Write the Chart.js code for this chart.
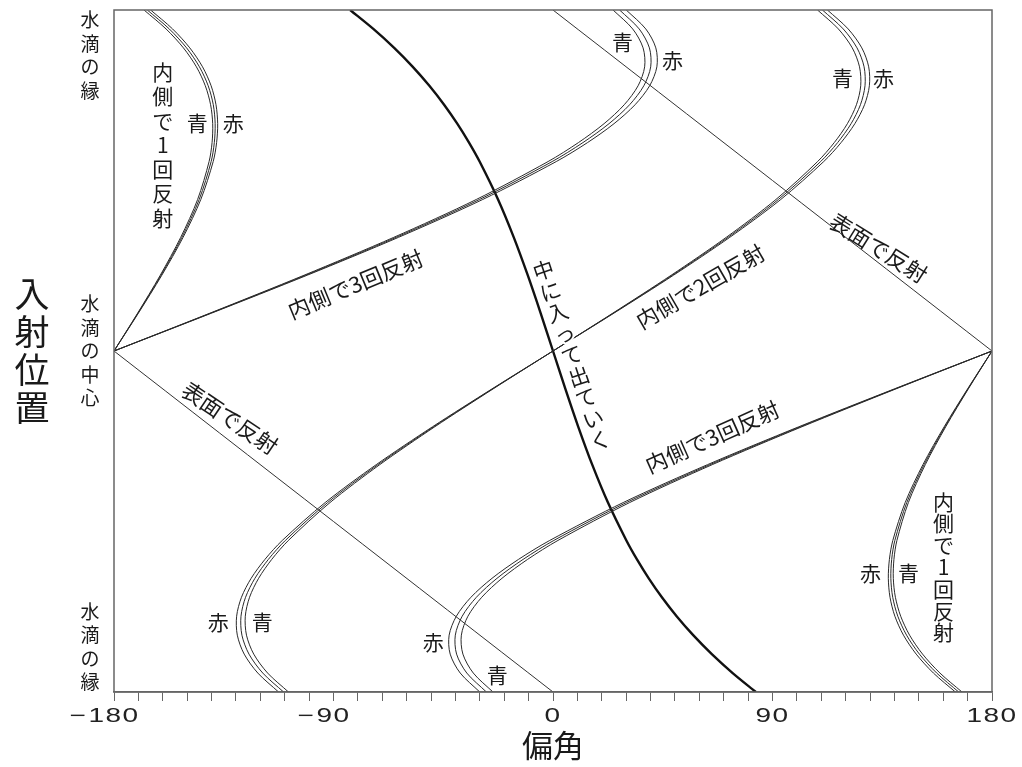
<!DOCTYPE html>
<html lang="ja">
<head>
<meta charset="utf-8">
<title>偏角と入射位置</title>
<script src="https://cdn.jsdelivr.net/npm/chart.js@4.4.1/dist/chart.umd.min.js"></script>
<style>
html,body{margin:0;padding:0;background:#fff;}
canvas{display:block;}
</style>
</head>
<body>
<canvas id="c" width="1022" height="767"></canvas>
<script>
// Incidence angle (deg) on the drop: +90 = upper edge, 0 = centre, -90 = lower edge
const incidenceUpper = [0, 10, 20, 30, 40, 50, 55, 60, 65, 70, 75, 80, 85, 90];
const incidenceLower = [0, -10, -20, -30, -40, -50, -55, -60, -65, -70, -75, -80, -85, -90];

// Deflection angle (deg) for each path, per colour (red / middle / blue)
// Straight through (中に入って出ていく)
const directUpper = [0, -5.07, -10.36, -16.08, -22.53, -30.09, -34.43, -39.26, -44.65, -50.69, -57.48, -65.12, -73.67, -83.18];
const directLower = [0, 5.07, 10.36, 16.08, 22.53, 30.09, 34.43, 39.26, 44.65, 50.69, 57.48, 65.12, 73.67, 83.18];

// One internal reflection
const once1RedUpper  = [-180, -169.99, -160.39, -151.67, -144.40, -139.33, -137.93, -137.49, -138.18, -140.18, -143.70, -148.92, -155.98, -164.99];
const once1MidUpper  = [-180, -170.15, -160.71, -152.16, -145.06, -140.17, -138.87, -138.52, -139.29, -141.38, -144.97, -150.24, -157.33, -166.35];
const once1BlueUpper = [-180, -170.30, -161.03, -152.64, -145.71, -141.01, -139.79, -139.53, -140.39, -142.56, -146.21, -151.53, -158.66, -167.69];
const once1RedLower  = [180, 169.99, 160.39, 151.67, 144.40, 139.33, 137.93, 137.49, 138.18, 140.18, 143.70, 148.92, 155.98, 164.99];
const once1MidLower  = [180, 170.15, 160.71, 152.16, 145.06, 140.17, 138.87, 138.52, 139.29, 141.38, 144.97, 150.24, 157.33, 166.35];
const once1BlueLower = [180, 170.30, 161.03, 152.64, 145.71, 141.01, 139.79, 139.53, 140.39, 142.56, 146.21, 151.53, 158.66, 167.69];

// Two internal reflections
const twice2RedUpper  = [0, 25.01, 49.41, 72.49, 93.41, 111.01, 118.11, 123.77, 127.74, 129.72, 129.44, 126.62, 121.03, 112.52];
const twice2MidUpper  = [0, 24.78, 48.93, 71.77, 92.42, 109.74, 116.70, 122.23, 126.06, 127.93, 127.55, 124.65, 119.00, 110.47];
const twice2BlueUpper = [0, 24.54, 48.46, 71.04, 91.43, 108.49, 115.32, 120.71, 124.42, 126.17, 125.68, 122.70, 117.01, 108.46];
const twice2RedLower  = [0, -25.01, -49.41, -72.49, -93.41, -111.01, -118.11, -123.77, -127.74, -129.72, -129.44, -126.62, -121.03, -112.52];
const twice2MidLower  = [0, -24.78, -48.93, -71.77, -92.42, -109.74, -116.70, -122.23, -126.06, -127.93, -127.55, -124.65, -119.00, -110.47];
const twice2BlueLower = [0, -24.54, -48.46, -71.04, -91.43, -108.49, -115.32, -120.71, -124.42, -126.17, -125.68, -122.70, -117.01, -108.46];

// Three internal reflections
const thrice3RedUpper  = [-180, -139.98, -100.78, -63.34, -28.79, 1.34, 14.14, 25.02, 33.65, 39.63, 42.59, 42.16, 38.04, 30.02];
const thrice3MidUpper  = [-180, -140.30, -101.42, -64.31, -30.11, -0.34, 12.26, 22.97, 31.42, 37.24, 40.06, 39.53, 35.34, 27.30];
const thrice3BlueUpper = [-180, -140.61, -102.06, -65.28, -31.42, -2.02, 10.42, 20.94, 29.22, 34.89, 37.58, 36.94, 32.68, 24.62];
const thrice3RedLower  = [180, 139.98, 100.78, 63.34, 28.79, -1.34, -14.14, -25.02, -33.65, -39.63, -42.59, -42.16, -38.04, -30.02];
const thrice3MidLower  = [180, 140.30, 101.42, 64.31, 30.11, 0.34, -12.26, -22.97, -31.42, -37.24, -40.06, -39.53, -35.34, -27.30];
const thrice3BlueLower = [180, 140.61, 102.06, 65.28, 31.42, 2.02, -10.42, -20.94, -29.22, -34.89, -37.58, -36.94, -32.68, -24.62];

// Reflection at the surface (straight lines)
const surfaceIncUpper = [0, 90];
const surfaceUpper = [180, 0];
const surfaceIncLower = [0, -90];
const surfaceLower = [-180, 0];

// Axis tick labels (value -> sign, digits)
const xTickValues = [-180, -90, 0, 90, 180];
const xTickDigits = ['180', '90', '0', '90', '180'];
const xTickSigns  = ['\u2212', '\u2212', '', '', ''];

// Labels: in-plot text positioned in data units (deflection, incidence)
const pathLabels = [
  { text: '内側で1回反射', x: -160, y: 54.4, vertical: true, step: 24.3, size: 21 },
  { text: '内側で1回反射', x: 160.1, y: -57.0, vertical: true, step: 21.8, size: 21 },
  { text: '中に入って出ていく', x: 7.7, y: -1.1, vertical: true, step: 22.4, angle: -18.5, knock: true, size: 21 },
  { text: '内側で3回反射', x: -81.0, y: 17.6, angle: -22.5, size: 22 },
  { text: '内側で2回反射', x: 60.4, y: 17.0, angle: -30, size: 22 },
  { text: '表面で反射', x: 133.5, y: 27.2, angle: 32, size: 22 },
  { text: '表面で反射', x: -132.4, y: -17.7, angle: 34, size: 22 },
  { text: '内側で3回反射', x: 65.3, y: -22.7, angle: -24, size: 22 }
];
const colourLabels = [
  { text: '青', x: -145.9, y: 60.2 }, { text: '赤', x: -131.1, y: 60.2 },
  { text: '青', x: 28.5, y: 81.6 },   { text: '赤', x: 49.0, y: 76.8 },
  { text: '青', x: 118.7, y: 72.1 },  { text: '赤', x: 135.5, y: 72.1 },
  { text: '赤', x: -137.3, y: -71.5 },{ text: '青', x: -119.2, y: -71.5 },
  { text: '赤', x: -49.1, y: -76.8 }, { text: '青', x: -22.9, y: -85.5 },
  { text: '赤', x: 130.2, y: -58.6 }, { text: '青', x: 145.8, y: -58.6 }
];
const edgeLabels = [
  { text: '水滴の縁', y: 90 },
  { text: '水滴の中心', y: 0 },
  { text: '水滴の縁', y: -90 }
];
const yTitle = '入射位置';
const xTitle = '偏角';

const JP = '"Noto Sans CJK JP", "Noto Sans CJK SC", sans-serif';
const NUM = '"Liberation Sans", Arial, sans-serif';

function pts(xs, ys) { return xs.map((x, j) => ({ x: x, y: ys[j] })); }

function curve(xs, ys, width, colour) {
  return {
    data: pts(xs, ys), showLine: true, borderColor: colour, borderWidth: width,
    pointRadius: 0, tension: 0.3, fill: false
  };
}

const thin = '#2a2a2a';
const datasets = [
  curve(surfaceUpper, surfaceIncUpper, 1, '#333'),
  curve(surfaceLower, surfaceIncLower, 1, '#333'),
  curve(once1RedUpper, incidenceUpper, 1, thin),
  curve(once1MidUpper, incidenceUpper, 1, thin),
  curve(once1BlueUpper, incidenceUpper, 1, thin),
  curve(once1RedLower, incidenceLower, 1, thin),
  curve(once1MidLower, incidenceLower, 1, thin),
  curve(once1BlueLower, incidenceLower, 1, thin),
  curve(twice2RedUpper, incidenceUpper, 1, thin),
  curve(twice2MidUpper, incidenceUpper, 1, thin),
  curve(twice2BlueUpper, incidenceUpper, 1, thin),
  curve(twice2RedLower, incidenceLower, 1, thin),
  curve(twice2MidLower, incidenceLower, 1, thin),
  curve(twice2BlueLower, incidenceLower, 1, thin),
  curve(thrice3RedUpper, incidenceUpper, 1, thin),
  curve(thrice3MidUpper, incidenceUpper, 1, thin),
  curve(thrice3BlueUpper, incidenceUpper, 1, thin),
  curve(thrice3RedLower, incidenceLower, 1, thin),
  curve(thrice3MidLower, incidenceLower, 1, thin),
  curve(thrice3BlueLower, incidenceLower, 1, thin),
  curve(directUpper, incidenceUpper, 2.4, '#111'),
  curve(directLower, incidenceLower, 2.4, '#111')
];

function drawColumn(ctx, text, step, knock) {
  const chars = Array.from(text);
  const y0 = -(chars.length - 1) / 2 * step;
  chars.forEach((ch, j) => {
    if (knock) { ctx.strokeText(ch, 0, y0 + j * step); }
    ctx.fillText(ch, 0, y0 + j * step);
  });
}

const textPlugin = {
  id: 'textPlugin',
  beforeDraw(chart) {
    const ctx = chart.ctx;
    ctx.save();
    ctx.fillStyle = '#fff';
    ctx.fillRect(0, 0, chart.width, chart.height);
    ctx.restore();
  },
  afterDatasetsDraw(chart) {
    const ctx = chart.ctx;
    const xs = chart.scales.x, ys = chart.scales.y;
    const a = chart.chartArea;
    ctx.save();
    // frame
    ctx.strokeStyle = '#666';
    ctx.lineWidth = 1.5;
    ctx.strokeRect(a.left, a.top, a.right - a.left, a.bottom - a.top);

    ctx.fillStyle = '#1a1a1a';
    ctx.textAlign = 'center';
    ctx.textBaseline = 'middle';
    ctx.strokeStyle = '#fff';
    ctx.lineWidth = 4;
    ctx.lineJoin = 'round';

    // path names
    pathLabels.forEach(l => {
      const px = xs.getPixelForValue(l.x), py = ys.getPixelForValue(l.y);
      ctx.font = l.size + 'px ' + JP;
      ctx.save();
      ctx.translate(px, py);
      if (l.angle) ctx.rotate(l.angle * Math.PI / 180);
      if (l.vertical) {
        drawColumn(ctx, l.text, l.step, l.knock);
      } else {
        ctx.fillText(l.text, 0, 0);
      }
      ctx.restore();
    });

    // colour names
    ctx.font = '21px ' + JP;
    colourLabels.forEach(l => {
      ctx.fillText(l.text, xs.getPixelForValue(l.x), ys.getPixelForValue(l.y));
    });

    // edge / centre labels left of the plot
    ctx.font = '19px ' + JP;
    edgeLabels.forEach(l => {
      const n = Array.from(l.text).length;
      const step = 23.5;
      let cy;
      if (l.y > 0) cy = a.top + 8 + (n - 1) / 2 * step + 2;
      else if (l.y < 0) cy = a.bottom - 8 - (n - 1) / 2 * step - 2;
      else cy = ys.getPixelForValue(0);
      ctx.save();
      ctx.translate(a.left - 24, cy);
      drawColumn(ctx, l.text, step, false);
      ctx.restore();
    });

    // x tick labels: wide digits centred on the tick, sign hanging to the left
    ctx.font = '20px ' + NUM;
    ctx.fillStyle = '#222';
    ctx.textBaseline = 'alphabetic';
    const sx = 1.4;
    xTickValues.forEach((v, j) => {
      const px = xs.getPixelForValue(v);
      const digits = xTickDigits[j];
      ctx.save();
      ctx.translate(px, a.bottom + 29.5);
      ctx.scale(sx, 1);
      ctx.letterSpacing = '1px';
      const w = ctx.measureText(digits).width;
      ctx.textAlign = 'left';
      ctx.fillText(digits, -w / 2, 0);
      if (xTickSigns[j]) {
        ctx.letterSpacing = '0px';
        ctx.textAlign = 'right';
        ctx.fillText(xTickSigns[j], -w / 2 - 2, 0);
      }
      ctx.restore();
    });

    // axis titles
    ctx.fillStyle = '#1a1a1a';
    ctx.textAlign = 'center';
    ctx.textBaseline = 'middle';
    ctx.font = '35px ' + JP;
    ctx.save();
    ctx.translate(32, ys.getPixelForValue(0));
    drawColumn(ctx, yTitle, 38, false);
    ctx.restore();

    ctx.font = '31px ' + JP;
    ctx.fillText(xTitle, xs.getPixelForValue(0), 745);
    ctx.restore();
  }
};

new Chart(document.getElementById('c').getContext('2d'), {
  type: 'scatter',
  data: { datasets: datasets },
  options: {
    responsive: false,
    animation: false,
    devicePixelRatio: 1,
    layout: { padding: { left: 114, right: 30, top: 10, bottom: 0 } },
    plugins: { legend: { display: false }, tooltip: { enabled: false } },
    scales: {
      x: {
        type: 'linear', min: -180, max: 180, position: 'bottom',
        afterFit(scale) { scale.height = 75; },
        ticks: {
          stepSize: 10, autoSkip: false, maxRotation: 0, padding: 3,
          font: { size: 12 },
          callback: () => ''
        },
        grid: { drawOnChartArea: false, drawTicks: true, tickLength: 9, color: '#666', lineWidth: 1 },
        border: { display: true, color: '#666', width: 1.5 }
      },
      y: { type: 'linear', min: -90, max: 90, display: false }
    }
  },
  plugins: [textPlugin]
});
</script>
</body>
</html>
